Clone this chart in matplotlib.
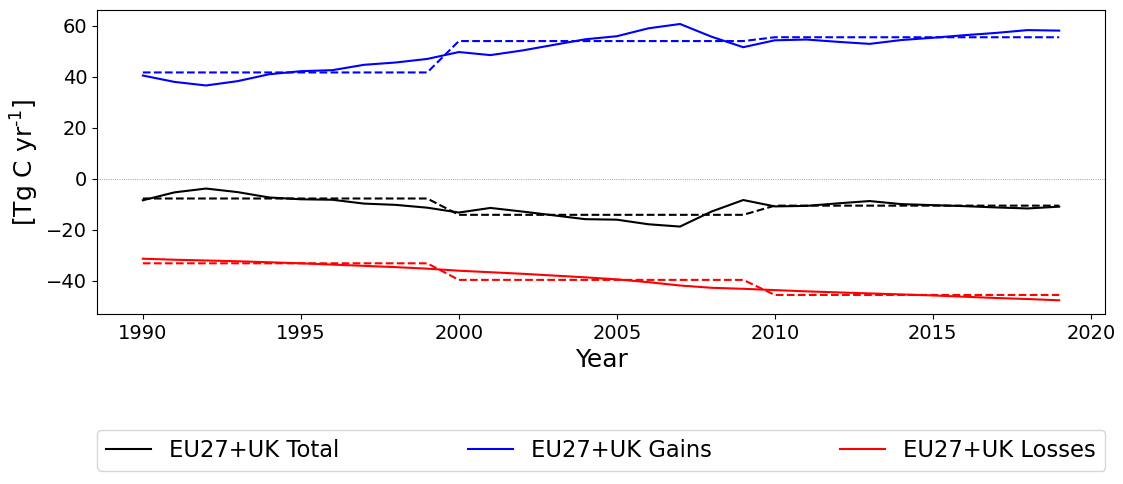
import matplotlib
matplotlib.use("Agg")
import matplotlib.pyplot as plt
import numpy as np

plt.rcParams['mathtext.default'] = 'regular'

years = np.arange(1990, 2020)

gains = [40.5, 38.0, 36.6, 38.3, 41.0, 42.2, 42.6, 44.7, 45.6, 47.0,
         49.7, 48.5, 50.3, 52.5, 54.7, 55.9, 59.0, 60.7, 55.7, 51.6,
         54.3, 54.6, 53.7, 52.9, 54.4, 55.3, 56.3, 57.2, 58.3, 58.1]
total = [-8.4, -5.3, -3.8, -5.2, -7.3, -8.0, -8.2, -9.7, -10.2, -11.3,
         -13.2, -11.4, -12.8, -14.3, -15.8, -16.0, -17.8, -18.7, -12.8, -8.3,
         -10.8, -10.6, -9.6, -8.7, -9.9, -10.3, -10.7, -11.2, -11.6, -10.9]
losses = [-31.3, -31.7, -32.0, -32.3, -32.7, -33.1, -33.6, -34.1, -34.6, -35.2,
          -36.0, -36.6, -37.2, -37.9, -38.6, -39.4, -40.5, -41.8, -42.7, -43.1,
          -43.6, -44.1, -44.5, -44.9, -45.3, -45.7, -46.2, -46.7, -47.1, -47.6]

# decadal means (dashed)
gains_dec = [41.7] * 10 + [54.0] * 10 + [55.5] * 10
total_dec = [-7.7] * 10 + [-14.1] * 10 + [-10.5] * 10
losses_dec = [-33.1] * 10 + [-39.6] * 10 + [-45.5] * 10

fig = plt.figure(figsize=(11.23, 4.84), dpi=100)
ax = fig.add_axes([0.0864, 0.351, 0.8976, 0.628])

ax.axhline(0, color='grey', linestyle=':', linewidth=0.6)
ax.plot(years, total, color='black', linewidth=1.5, label='EU27+UK Total')
ax.plot(years, gains, color='blue', linewidth=1.5, label='EU27+UK Gains')
ax.plot(years, losses, color='red', linewidth=1.5, label='EU27+UK Losses')
ax.plot(years, total_dec, color='black', linestyle='--', linewidth=1.5)
ax.plot(years, gains_dec, color='blue', linestyle='--', linewidth=1.5)
ax.plot(years, losses_dec, color='red', linestyle='--', linewidth=1.5)

ax.set_xticks([1990, 1995, 2000, 2005, 2010, 2015, 2020])
ax.tick_params(labelsize=14)
ax.set_xlabel('Year', fontsize=18)
ax.set_ylabel(r'[Tg C yr$^{\text{-1}}$]', fontsize=18)

handles, labels = ax.get_legend_handles_labels()
fig.legend(handles, labels, loc='lower left', bbox_to_anchor=(0.0864, 0.027, 0.8976, 0.08),
           mode='expand', ncol=3, fontsize=16.3, borderaxespad=0)

fig.savefig('out.png', dpi=100)
